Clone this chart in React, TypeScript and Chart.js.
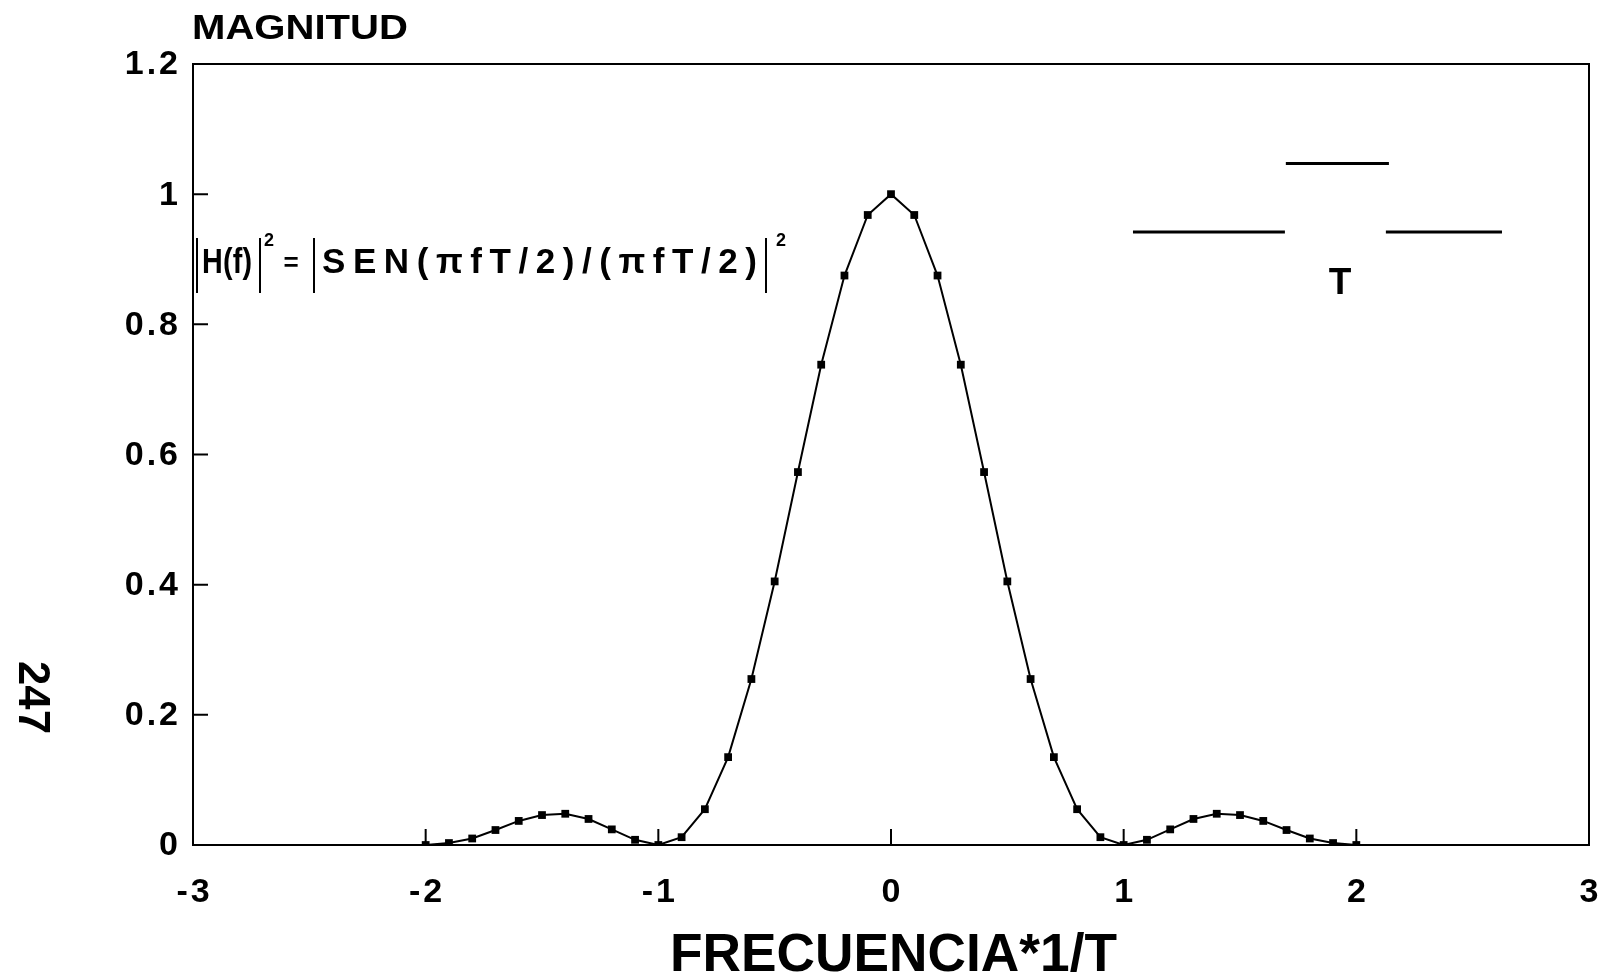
import React, { useEffect, useRef } from 'react';
import { Chart, registerables } from 'chart.js';

Chart.register(...registerables);

// ---- data ----
const frequency = [
  -2.0, -1.9, -1.8, -1.7, -1.6, -1.5, -1.4, -1.3, -1.2, -1.1,
  -1.0, -0.9, -0.8, -0.7, -0.6, -0.5, -0.4, -0.3, -0.2, -0.1,
  0.0,
  0.1, 0.2, 0.3, 0.4, 0.5, 0.6, 0.7, 0.8, 0.9, 1.0,
  1.1, 1.2, 1.3, 1.4, 1.5, 1.6, 1.7, 1.8, 1.9, 2.0,
];
const magnitude = [
  0.0, 0.003, 0.010, 0.023, 0.037, 0.046, 0.048, 0.040, 0.024, 0.008,
  0.0, 0.012, 0.055, 0.135, 0.255, 0.405, 0.573, 0.738, 0.875, 0.968,
  1.0,
  0.968, 0.875, 0.738, 0.573, 0.405, 0.255, 0.135, 0.055, 0.012, 0.0,
  0.008, 0.024, 0.040, 0.048, 0.046, 0.037, 0.023, 0.010, 0.003, 0.0,
];
const xTickValues = [-3, -2, -1, 0, 1, 2, 3];
const xTickLabels = ['-3', '-2', '-1', '0', '1', '2', '3'];
const yTickValues = [0, 0.2, 0.4, 0.6, 0.8, 1, 1.2];
const yTickLabels = ['0', '0.2', '0.4', '0.6', '0.8', '1', '1.2'];
const xInnerTicks = [-2, -1, 0, 1, 2];
const yInnerTicks = [0.2, 0.4, 0.6, 0.8, 1.0];

const titleText = 'MAGNITUD';
const xAxisTitle = 'FRECUENCIA*1/T';
const formulaLeft = 'H(f)';
const formulaRight = 'SEN(πfT/2)/(πfT/2)';
const pulseLabel = 'T';
const marginNote = '247';

const FONT = '"Liberation Sans", Arial, Helvetica, sans-serif';

function drawSpaced(ctx: CanvasRenderingContext2D, text: string, x: number, y: number, spacing: number, align: 'left' | 'center' | 'right') {
  const chars = Array.from(text);
  const widths = chars.map((c) => ctx.measureText(c).width);
  const total = widths.reduce((a, b) => a + b, 0) + spacing * (chars.length - 1);
  let cx = align === 'left' ? x : align === 'center' ? x - total / 2 : x - total;
  ctx.textAlign = 'left';
  chars.forEach((c, i) => {
    ctx.fillText(c, cx, y);
    cx += widths[i] + spacing;
  });
}

// glyphs scaled by sx, spread to fill a width
function drawCondensed(ctx: CanvasRenderingContext2D, text: string, x: number, y: number, width: number, sx: number) {
  const chars = Array.from(text);
  const widths = chars.map((c) => ctx.measureText(c).width * sx);
  const sum = widths.reduce((a, b) => a + b, 0);
  const spacing = chars.length > 1 ? (width - sum) / (chars.length - 1) : 0;
  let cx = x;
  ctx.textAlign = 'left';
  chars.forEach((c, i) => {
    ctx.save();
    ctx.translate(cx, y);
    ctx.scale(sx, 1);
    ctx.fillText(c, 0, 0);
    ctx.restore();
    cx += widths[i] + spacing;
  });
}

function drawFit(ctx: CanvasRenderingContext2D, text: string, x: number, y: number, width: number) {
  ctx.save();
  ctx.textAlign = 'left';
  const w = ctx.measureText(text).width;
  ctx.translate(x, y);
  ctx.scale(width / w, 1);
  ctx.fillText(text, 0, 0);
  ctx.restore();
}

const annotations = {
  id: 'annotations',
  afterDraw(chart: any) {
    const { ctx, chartArea: a, scales } = chart;
    const xs = scales.x;
    const ys = scales.y;
    ctx.save();
    ctx.strokeStyle = '#000';
    ctx.fillStyle = '#000';
    ctx.lineWidth = 2;
    // frame
    ctx.strokeRect(a.left, a.top, a.right - a.left, a.bottom - a.top);
    // inward ticks
    ctx.beginPath();
    xInnerTicks.forEach((v) => {
      const px = xs.getPixelForValue(v);
      ctx.moveTo(px, a.bottom);
      ctx.lineTo(px, a.bottom - 16);
    });
    yInnerTicks.forEach((v) => {
      const py = ys.getPixelForValue(v);
      ctx.moveTo(a.left, py);
      ctx.lineTo(a.left + 15, py);
    });
    ctx.stroke();

    // tick labels
    ctx.font = `bold 34px ${FONT}`;
    ctx.textBaseline = 'middle';
    yTickValues.forEach((v, i) => {
      drawSpaced(ctx, yTickLabels[i], a.left - 15, ys.getPixelForValue(v) + 1, 3, 'right');
    });
    xTickValues.forEach((v, i) => {
      drawSpaced(ctx, xTickLabels[i], xs.getPixelForValue(v), a.bottom + 48, 3, 'center');
    });

    // titles
    ctx.textBaseline = 'alphabetic';
    ctx.font = `bold 35px ${FONT}`;
    drawFit(ctx, titleText, 192, 39, 216);
    ctx.font = `bold 53px ${FONT}`;
    drawFit(ctx, xAxisTitle, 670, 971, 447);

    // formula
    ctx.lineWidth = 2;
    ctx.beginPath();
    [197, 260, 314, 766].forEach((bx) => {
      ctx.moveTo(bx, 238);
      ctx.lineTo(bx, 293);
    });
    ctx.stroke();
    ctx.font = `bold 35px ${FONT}`;
    drawCondensed(ctx, formulaLeft, 202, 273, 50, 0.82);
    drawCondensed(ctx, formulaRight, 322, 273, 435, 1.0);
    ctx.font = `bold 19px ${FONT}`;
    drawFit(ctx, '2', 264, 246, 10);
    drawFit(ctx, '2', 776, 246, 10);
    ctx.font = `bold 26px ${FONT}`;
    ctx.textBaseline = 'middle';
    ctx.textAlign = 'center';
    ctx.fillText('=', 291, 264);

    // pulse sketch (positioned with the chart's scales)
    ctx.lineWidth = 3;
    ctx.beginPath();
    const yLow = ys.getPixelForValue(0.942);
    const yHigh = ys.getPixelForValue(1.047);
    ctx.moveTo(xs.getPixelForValue(1.04), yLow);
    ctx.lineTo(xs.getPixelForValue(1.693), yLow);
    ctx.moveTo(xs.getPixelForValue(1.697), yHigh);
    ctx.lineTo(xs.getPixelForValue(2.14), yHigh);
    ctx.moveTo(xs.getPixelForValue(2.127), yLow);
    ctx.lineTo(xs.getPixelForValue(2.626), yLow);
    ctx.stroke();
    ctx.font = `bold 37px ${FONT}`;
    ctx.textBaseline = 'alphabetic';
    ctx.textAlign = 'center';
    ctx.fillText(pulseLabel, xs.getPixelForValue(1.93), 294);

    // rotated margin note
    ctx.save();
    ctx.translate(31, 697);
    ctx.rotate(Math.PI / 2);
    ctx.font = `bold 44px ${FONT}`;
    ctx.textBaseline = 'middle';
    drawFit(ctx, marginNote, -36, 0, 73);
    ctx.restore();

    ctx.restore();
  },
};

export default function App() {
  const canvasRef = useRef<HTMLCanvasElement | null>(null);

  useEffect(() => {
    document.body.style.margin = '0';
    const canvas = canvasRef.current;
    if (!canvas) return;
    const chart = new Chart(canvas, {
      type: 'line',
      data: {
        datasets: [
          {
            data: frequency.map((f, i) => ({ x: f, y: magnitude[i] })),
            borderColor: '#000',
            borderWidth: 2,
            backgroundColor: '#000',
            pointStyle: 'rect',
            pointRadius: 5.5,
            pointBorderWidth: 0,
            pointBackgroundColor: '#000',
            tension: 0,
            fill: false,
          },
        ],
      },
      options: {
        responsive: false,
        animation: false,
        events: [],
        layout: { padding: { left: 193, top: 64, right: 32, bottom: 130 } },
        plugins: { legend: { display: false }, tooltip: { enabled: false }, title: { display: false } },
        scales: {
          x: { type: 'linear', min: -3, max: 3, display: false },
          y: { type: 'linear', min: 0, max: 1.2, display: false },
        },
      },
      plugins: [annotations],
    });
    return () => chart.destroy();
  }, []);

  return (
    <div style={{ width: 1621, height: 975, background: '#fff' }}>
      <canvas ref={canvasRef} width={1621} height={975} style={{ display: 'block' }} />
    </div>
  );
}
